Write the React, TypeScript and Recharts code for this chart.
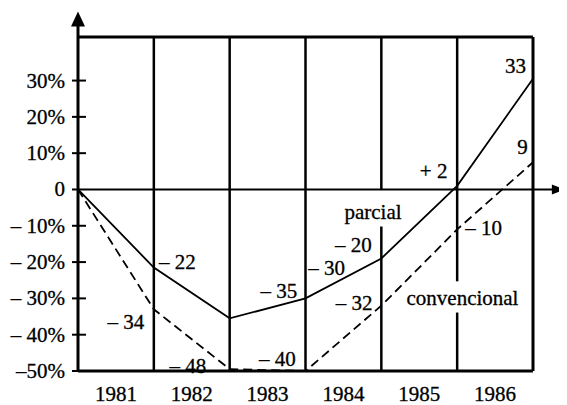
import {
  LineChart,
  Line,
  XAxis,
  YAxis,
  ReferenceLine,
  ReferenceDot,
} from "recharts";

const YEARS = ["1981", "1982", "1983", "1984", "1985", "1986"];
const BOUNDS = [0, 1, 2, 3, 4, 5, 6];
const PARCIAL = [0, -21.5, -35.5, -30, -19, 1, 30.5];
const CONVENCIONAL = [0, -33, -49.5, -50, -32, -11, 7.5];
const Y_TICKS = [30, 20, 10, 0, -10, -20, -30, -40, -50];
const YEAR_TICKS = [0.5, 1.5, 2.5, 3.5, 4.5, 5.5];

// vertical year dividers, split where the curve names sit
const DIVIDERS = [
  { x: 1, parts: [[42, -50]] },
  { x: 2, parts: [[42, -50]] },
  { x: 3, parts: [[42, -50]] },
  { x: 4, parts: [[42, 0], [-10.2, -50]] },
  { x: 5, parts: [[42, -25.3], [-33.9, -50]] },
];

const NOTES = [
  { x: 1.31, y: -20.1, text: "– 22" },
  { x: 0.63, y: -36.4, text: "– 34" },
  { x: 1.45, y: -48.5, text: "– 48" },
  { x: 2.65, y: -28.1, text: "– 35" },
  { x: 2.63, y: -46.8, text: "– 40" },
  { x: 3.28, y: -21.5, text: "– 30" },
  { x: 3.63, y: -15.2, text: "– 20" },
  { x: 3.64, y: -31.4, text: "– 32" },
  { x: 3.89, y: -6.1, text: "parcial" },
  { x: 4.69, y: 5.2, text: "+ 2" },
  { x: 5.77, y: 33.9, text: "33" },
  { x: 5.86, y: 11.6, text: "9" },
  { x: 5.35, y: -10.7, text: "– 10" },
  { x: 5.07, y: -30.0, text: "convencional" },
];

const data = BOUNDS.map((x, i) => ({
  x,
  parcial: PARCIAL[i],
  convencional: CONVENCIONAL[i],
}));

const FONT = "'Liberation Serif', 'Times New Roman', serif";
const FS = 21;

function yLabel(v: number) {
  if (v === 0) return "0";
  if (v > 0) return `${v}%`;
  if (v === -50) return "–50%";
  return `– ${-v}%`;
}

function YTick(props: any) {
  const { x, y, payload } = props;
  return (
    <g>
      <line x1={x - 6} x2={payload.value === 0 ? x : x + 8} y1={y} y2={y} stroke="#000" strokeWidth={2} />
      <text
        x={x - 13}
        y={y}
        textAnchor="end"
        dominantBaseline="central"
        fontFamily={FONT}
        fontSize={FS}
        fill="#000"
        stroke="#000"
        strokeWidth={0.3}
      >
        {yLabel(payload.value)}
      </text>
    </g>
  );
}

export default function App() {
  return (
    <LineChart
      width={559}
      height={397}
      data={data}
      margin={{ top: 29, right: 34, bottom: 0, left: 0 }}
    >
      <XAxis
        dataKey="x"
        type="number"
        domain={[0, 6]}
        ticks={YEAR_TICKS}
        tickFormatter={(v: number) => YEARS[Math.floor(v)]}
        tickLine={false}
        tickSize={0}
        tickMargin={15}
        height={34}
        axisLine={{ stroke: "#000", strokeWidth: 3 }}
        tick={{ fill: "#000", fontSize: FS, fontFamily: FONT, stroke: "#000", strokeWidth: 0.3 }}
        interval={0}
      />
      <YAxis
        type="number"
        domain={[-50, 42]}
        allowDataOverflow
        ticks={Y_TICKS}
        width={70}
        tickLine={false}
        tickSize={0}
        tickMargin={0}
        interval={0}
        axisLine={{ stroke: "#000", strokeWidth: 3 }}
        tick={<YTick />}
      />
      <ReferenceLine y={42} stroke="#000" strokeWidth={3} />
      <ReferenceLine x={6} stroke="#000" strokeWidth={3} />
      {DIVIDERS.flatMap((d) =>
        d.parts.map((p, j) => (
          <ReferenceLine
            key={`${d.x}-${j}`}
            segment={[
              { x: d.x, y: p[0] },
              { x: d.x, y: p[1] },
            ]}
            stroke="#000"
            strokeWidth={2.5}
          />
        ))
      )}
      <ReferenceLine
        segment={[
          { x: 0, y: 0 },
          { x: 6.3, y: 0 },
        ]}
        ifOverflow="visible"
        stroke="#000"
        strokeWidth={2}
      />
      <ReferenceLine
        segment={[
          { x: 0, y: 42 },
          { x: 0, y: 46 },
        ]}
        ifOverflow="visible"
        stroke="#000"
        strokeWidth={3}
      />
      <ReferenceDot
        x={6.42}
        y={0}
        ifOverflow="visible"
        shape={(p: any) => (
          <polygon
            points={`${p.cx},${p.cy} ${p.cx - 13},${p.cy - 5} ${p.cx - 13},${p.cy + 5}`}
            fill="#000"
          />
        )}
      />
      <ReferenceDot
        x={0}
        y={49}
        ifOverflow="visible"
        shape={(p: any) => (
          <polygon
            points={`${p.cx},${p.cy} ${p.cx - 7},${p.cy + 15} ${p.cx + 7},${p.cy + 15}`}
            fill="#000"
          />
        )}
      />
      <Line
        type="linear"
        dataKey="parcial"
        stroke="#000"
        strokeWidth={1.8}
        dot={false}
        isAnimationActive={false}
      />
      <Line
        type="linear"
        dataKey="convencional"
        stroke="#000"
        strokeWidth={1.8}
        strokeDasharray="9 5"
        dot={false}
        isAnimationActive={false}
      />
      {NOTES.map((n) => (
        <ReferenceDot
          key={n.text}
          x={n.x}
          y={n.y}
          ifOverflow="visible"
          shape={(p: any) => (
            <text
              x={p.cx}
              y={p.cy}
              textAnchor="middle"
              dominantBaseline="central"
              fontFamily={FONT}
              fontSize={FS}
              fill="#000"
              stroke="#000"
              strokeWidth={0.3}
            >
              {n.text}
            </text>
          )}
        />
      ))}
    </LineChart>
  );
}
